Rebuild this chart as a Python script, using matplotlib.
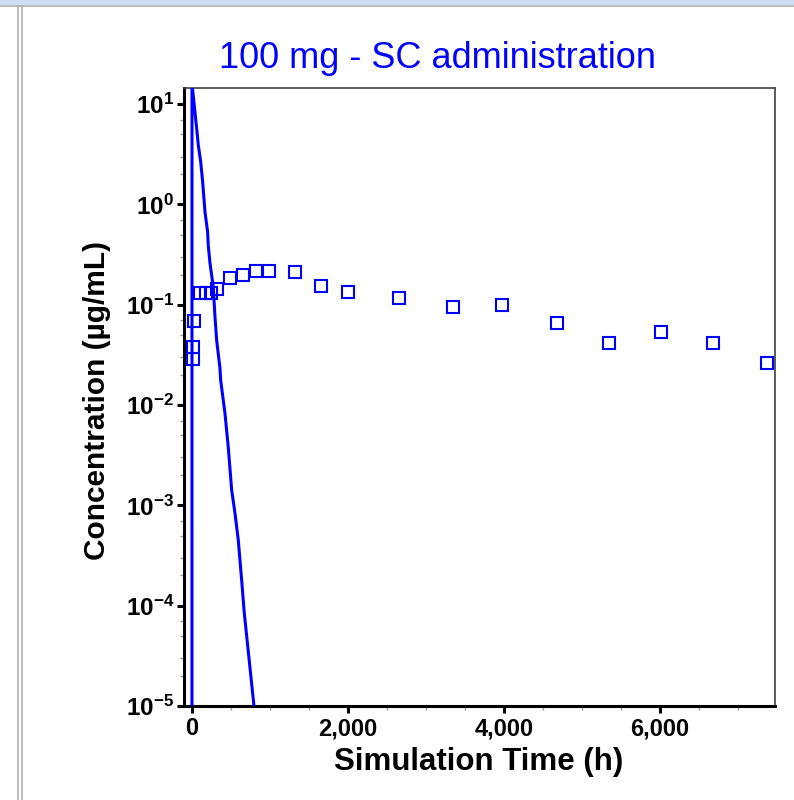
import numpy as np
import matplotlib
matplotlib.use("Agg")
import matplotlib.pyplot as plt
from matplotlib.ticker import LogLocator, FixedLocator, MultipleLocator, FuncFormatter
from matplotlib.lines import Line2D

plt.rcParams['font.family'] = ['Liberation Sans', 'DejaVu Sans']
plt.rcParams['mathtext.fontset'] = 'custom'
plt.rcParams['mathtext.rm'] = 'Liberation Sans:bold'
plt.rcParams['mathtext.it'] = 'Liberation Sans:bold'
plt.rcParams['mathtext.bf'] = 'Liberation Sans:bold'

# simulated profile (h, ug/mL)
sim_t = [0, 0.5, 38, 60, 81, 112, 137, 167, 201, 209, 231, 273, 295, 317, 359,
         368, 423, 465, 509, 551, 594, 637, 671, 795, 860]
sim_c = [1e-7, 16, 8.4, 5.75, 3.9, 2.66, 1.68, 0.84, 0.53, 0.39, 0.26, 0.151,
         0.076, 0.044, 0.0233, 0.0177, 0.0083, 0.00383, 0.00142, 8.4e-4,
         4.5e-4, 1.8e-4, 8.4e-5, 1e-5, 3.5e-6]

# observed data
obs_t = [13, 13, 26, 103, 180, 248, 325, 487, 650, 820, 987, 1320, 1650, 1996,
         2654, 3346, 3978, 4675, 5350, 6009, 6675, 7376]
obs_c = [0.038, 0.029, 0.069, 0.132, 0.132, 0.132, 0.145, 0.185, 0.197, 0.218,
         0.218, 0.213, 0.155, 0.135, 0.117, 0.095, 0.099, 0.065, 0.0417, 0.053,
         0.0417, 0.026]

fig = plt.figure(figsize=(7.94, 8.0), dpi=100)

# window frame bits
fig.patches.append(plt.Rectangle((0, 1 - 4 / 800), 1, 4 / 800, transform=fig.transFigure,
                                 color='#cfdff2', zorder=0))
fig.add_artist(Line2D([0, 1], [1 - 5.5 / 800] * 2, transform=fig.transFigure, color='#b0b0b0', lw=1.2))
for xp in (17.5, 21.5):
    fig.add_artist(Line2D([xp / 794] * 2, [0, 1 - 5.5 / 800], transform=fig.transFigure,
                          color='#b0b0b0', lw=1.2))

ax = fig.add_axes([184 / 794, 94 / 800, (775 - 184) / 794, (706 - 88) / 800])

ax.plot(sim_t, sim_c, '-', color='#0000ff', lw=2.2, zorder=3)
ax.plot(obs_t, obs_c, 's', mfc='none', mec='#0000ff', ms=8, mew=1.5, zorder=4, clip_on=False)

ax.set_yscale('log')
ax.set_xlim(-102, 7474)
ax.set_ylim(1e-5, 10 ** 1.16)

ax.xaxis.set_major_locator(MultipleLocator(2000))
ax.xaxis.set_minor_locator(MultipleLocator(500))
ax.xaxis.set_major_formatter(FuncFormatter(lambda v, p: f'{int(v):,}'))
ax.yaxis.set_major_locator(FixedLocator([1e-5, 1e-4, 1e-3, 1e-2, 1e-1, 1, 10]))
ax.yaxis.set_minor_locator(LogLocator(base=10, subs=(2, 3, 5, 7)))
ax.yaxis.set_major_formatter(FuncFormatter(lambda v, p: r'$10^{%d}$' % int(round(np.log10(v)))))
ax.yaxis.set_minor_formatter(FuncFormatter(lambda v, p: ''))

ax.tick_params(axis='both', which='major', direction='out', length=5, width=2.2,
               color='black', labelsize=17, pad=3)
ax.tick_params(axis='y', which='major', labelsize=17.5, pad=2)
ax.tick_params(axis='both', which='minor', direction='out', length=3, width=1,
               color='#999999')
for lab in ax.get_xticklabels():
    lab.set_fontweight('bold')

for s in ('left', 'bottom'):
    ax.spines[s].set_linewidth(2.2)
    ax.spines[s].set_color('black')
for s in ('top', 'right'):
    ax.spines[s].set_linewidth(1.2)
    ax.spines[s].set_color('#404040')

ax.set_xlabel('Simulation Time (h)', fontsize=22.5, fontweight='bold', va='center')
ax.set_ylabel('Concentration (µg/mL)', fontsize=21.5, fontweight='bold', va='center')
ax.xaxis.set_label_coords((479 - 184) / 591, (706 - 762) / 618)
ax.yaxis.set_label_coords((97 - 184) / 591, (706 - 401) / 618)
fig.text(438 / 794, 1 - 59 / 800, '100 mg - SC administration', color='#0000ff',
         fontsize=26, ha='center', va='center')

fig.savefig('out.png', dpi=100)
